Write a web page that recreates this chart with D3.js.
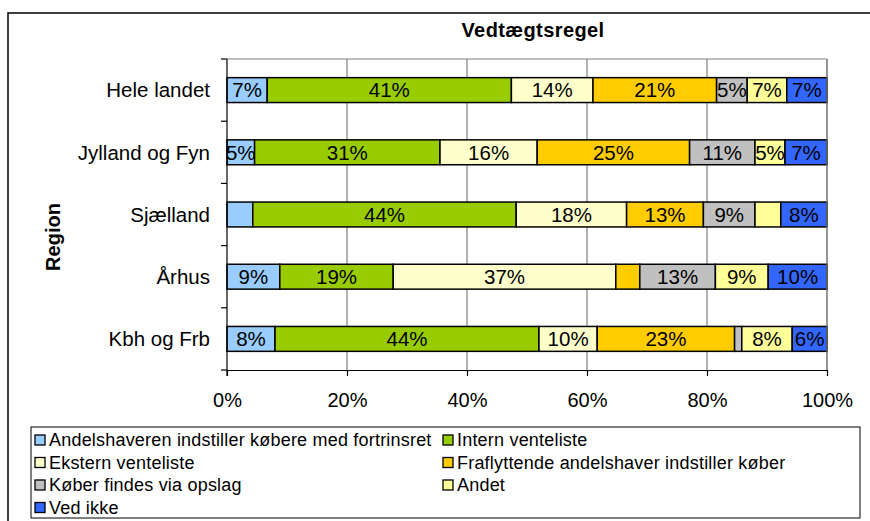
<!DOCTYPE html>
<html>
<head>
<meta charset="utf-8">
<script src="https://cdn.jsdelivr.net/npm/d3@7"></script>
<style>
  body { margin: 0; background: #fff; }
  svg { font-family: "Liberation Sans", Arial, sans-serif; display: block; }
</style>
</head>
<body>
<div id="chart"></div>
<script>
// regions, top to bottom
var regions = ["Hele landet", "Jylland og Fyn", "Sjælland", "Århus", "Kbh og Frb"];

var seriesNames = [
    "Andelshaveren indstiller købere med fortrinsret",
    "Intern venteliste",
    "Ekstern venteliste",
    "Fraflyttende andelshaver indstiller køber",
    "Køber findes via opslag",
    "Andet",
    "Ved ikke"
];

// shares in percent, one array per series, in region order
var andelshaveren = [6.7, 4.6, 4.3, 8.8, 8.0];
var intern        = [40.7, 30.9, 43.9, 18.9, 44.0];
var ekstern       = [13.6, 16.2, 18.4, 37.1, 9.7];
var fraflyttende  = [20.6, 25.4, 12.8, 4.0, 22.9];
var opslag        = [5.1, 10.9, 8.6, 12.6, 1.2];
var andet         = [6.6, 5.0, 4.3, 8.8, 8.4];
var vedIkke       = [6.7, 7.0, 7.7, 9.8, 5.8];

var xTicks = [0, 20, 40, 60, 80, 100];

var colors = ["#99CCFF", "#99CC00", "#FFFFCC", "#FFCC00", "#C0C0C0", "#FFFF99", "#3366FF"];

var width = 870, height = 521;
var svg = d3.select("#chart").append("svg")
    .attr("width", width)
    .attr("height", height);

// outer chart border (runs off the page on right and bottom)
svg.append("rect")
    .attr("x", 8).attr("y", 13)
    .attr("width", 900).attr("height", 600)
    .attr("fill", "none").attr("stroke", "#000").attr("stroke-width", 1.5);

var all = [andelshaveren, intern, ekstern, fraflyttende, opslag, andet, vedIkke];
var table = regions.map(function(r, i) {
    var row = { region: r };
    seriesNames.forEach(function(s, j) { row[s] = all[j][i]; });
    return row;
});

var pLeft = 227, pRight = 827, pTop = 59, pBottom = 370;

var x = d3.scaleLinear().domain([0, 100]).range([pLeft, pRight]);
var y = d3.scaleBand().domain(regions).range([pTop, pBottom])
    .paddingInner(0.6).paddingOuter(0.3);

// gridlines
svg.append("g").selectAll("line")
    .data(xTicks.slice(1))
    .enter().append("line")
    .attr("x1", function(d) { return x(d); })
    .attr("x2", function(d) { return x(d); })
    .attr("y1", pTop).attr("y2", pBottom)
    .attr("stroke", "#808080").attr("stroke-width", 1.2);

svg.append("line")
    .attr("x1", pLeft).attr("x2", pRight)
    .attr("y1", pTop).attr("y2", pTop)
    .attr("stroke", "#808080").attr("stroke-width", 1.2);

// title
svg.append("text")
    .attr("x", 533).attr("y", 37)
    .attr("text-anchor", "middle")
    .style("font-size", "20px").style("font-weight", "bold")
    .style("letter-spacing", "0.4px")
    .text("Vedtægtsregel");

var stack = d3.stack().keys(seriesNames);
var layers = stack(table);

var layer = svg.selectAll(".layer")
    .data(layers)
    .enter().append("g")
    .attr("class", "layer")
    .attr("fill", function(d, i) { return colors[i]; });

layer.selectAll("rect")
    .data(function(d) { return d; })
    .enter().append("rect")
    .attr("x", function(d) { return x(d[0]); })
    .attr("y", function(d) { return y(d.data.region); })
    .attr("width", function(d) { return x(d[1]) - x(d[0]); })
    .attr("height", y.bandwidth())
    .attr("stroke", "#000")
    .attr("stroke-width", 1.5);

layer.selectAll("text")
    .data(function(d) { return d.filter(function(p) { return p[1] - p[0] >= 4.5; }); })
    .enter().append("text")
    .attr("x", function(d) { return (x(d[0]) + x(d[1])) / 2; })
    .attr("y", function(d) { return y(d.data.region) + y.bandwidth() / 2; })
    .attr("dy", "0.36em")
    .attr("text-anchor", "middle")
    .attr("fill", "#000")
    .style("font-size", "20.5px")
    .text(function(d) { return Math.round(d[1] - d[0]) + "%"; });

// right plot border
svg.append("line")
    .attr("x1", pRight).attr("x2", pRight)
    .attr("y1", pTop).attr("y2", pBottom)
    .attr("stroke", "#808080").attr("stroke-width", 1.2);

// x axis
var xAxis = svg.append("g")
    .attr("transform", "translate(0," + pBottom + ")")
    .call(d3.axisBottom(x).tickValues(xTicks)
        .tickFormat(function(d) { return d + "%"; })
        .tickSize(6).tickPadding(17).tickSizeOuter(0));
xAxis.select(".domain").attr("stroke", "#000").attr("stroke-width", 1.2);
xAxis.selectAll(".tick line").attr("stroke", "#000").attr("stroke-width", 1.2);
xAxis.selectAll("text")
    .style("font-size", "20px")
    .style("font-family", "Liberation Sans, Arial, sans-serif")
    .attr("fill", "#000");

// y axis line + ticks at band boundaries
svg.append("line")
    .attr("x1", pLeft).attr("x2", pLeft)
    .attr("y1", pTop).attr("y2", pBottom + 6)
    .attr("stroke", "#000").attr("stroke-width", 1.2);

svg.append("g").selectAll("line")
    .data(d3.range(regions.length + 1))
    .enter().append("line")
    .attr("x1", pLeft - 6).attr("x2", pLeft)
    .attr("y1", function(i) { return pTop + i * y.step(); })
    .attr("y2", function(i) { return pTop + i * y.step(); })
    .attr("stroke", "#000").attr("stroke-width", 1.2);

svg.append("g").selectAll("text")
    .data(regions)
    .enter().append("text")
    .attr("x", 210)
    .attr("y", function(d) { return y(d) + y.bandwidth() / 2; })
    .attr("dy", "0.36em")
    .attr("text-anchor", "end")
    .style("font-size", "20.5px")
    .text(function(d) { return d; });

svg.append("text")
    .attr("transform", "translate(60,237) rotate(-90)")
    .attr("text-anchor", "middle")
    .style("font-size", "20px").style("font-weight", "bold")
    .text("Region");

// legend
svg.append("rect")
    .attr("x", 31).attr("y", 427)
    .attr("width", 829).attr("height", 91)
    .attr("fill", "#fff").attr("stroke", "#000").attr("stroke-width", 1);

var legendPos = [[0, 0], [1, 0], [0, 1], [1, 1], [0, 2], [1, 2], [0, 3]];
var legend = svg.selectAll(".legend")
    .data(seriesNames)
    .enter().append("g")
    .attr("class", "legend")
    .attr("transform", function(d, i) {
        return "translate(" + (legendPos[i][0] ? 443 : 35) + "," + (440 + legendPos[i][1] * 22.5) + ")";
    });

legend.append("rect")
    .attr("x", 0).attr("y", -5)
    .attr("width", 10).attr("height", 10)
    .attr("fill", function(d, i) { return colors[i]; })
    .attr("stroke", "#000").attr("stroke-width", 1.3);

legend.append("text")
    .attr("x", 14).attr("dy", "0.36em")
    .style("font-size", "18px")
    .style("letter-spacing", "0.2px")
    .text(function(d) { return d; });
</script>
</body>
</html>
